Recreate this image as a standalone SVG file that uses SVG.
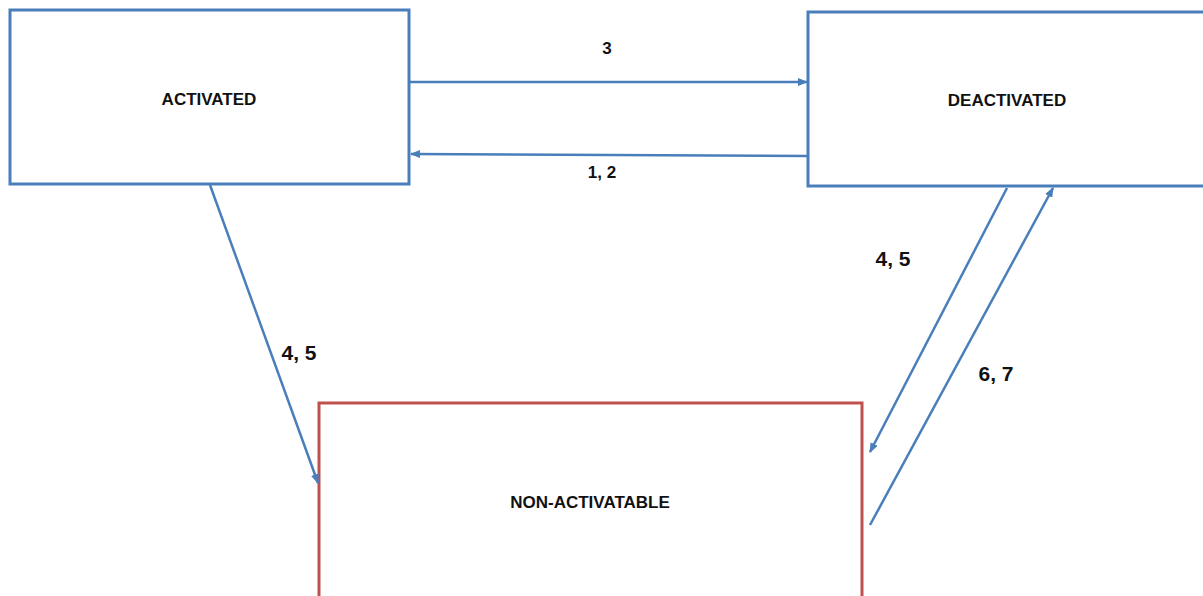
<svg xmlns="http://www.w3.org/2000/svg" width="1203" height="596" viewBox="0 0 1203 596">
<defs>
<marker id="ah" markerWidth="10" markerHeight="8" refX="9" refY="4" orient="auto" markerUnits="userSpaceOnUse">
<path d="M0,0 L10,4 L0,8 Z" fill="#4a7ebb"/>
</marker>
</defs>
<style>
.box{fill:#fff;stroke:#4a7ebb;stroke-width:3}
.red{fill:#fff;stroke:#c0504d;stroke-width:3}
.t{font-family:"Liberation Sans",Arial,sans-serif;font-weight:bold;font-size:17px;fill:#111;text-anchor:middle}
.lbl{font-family:"Liberation Sans",Arial,sans-serif;font-weight:bold;font-size:17px;fill:#111;text-anchor:middle}
.lbl2{font-family:"Liberation Sans",Arial,sans-serif;font-weight:bold;font-size:21px;fill:#111;text-anchor:middle}
.c{stroke:#4a7ebb;stroke-width:2.5;fill:none;marker-end:url(#ah)}
</style>
<rect width="1203" height="596" fill="#fff"/>
<g id="activated">
<rect class="box" x="10" y="10" width="399" height="174"/>
<text class="t" x="209" y="105">ACTIVATED</text>
</g>
<g id="deactivated">
<rect class="box" x="808" y="12" width="400" height="174"/>
<text class="t" x="1007" y="106">DEACTIVATED</text>
</g>
<g id="nonactivatable">
<rect class="red" x="319" y="403" width="543" height="210"/>
<text class="t" x="590" y="508">NON-ACTIVATABLE</text>
</g>
<g id="connectors">
<line class="c" x1="410" y1="82" x2="807" y2="82"/>
<line class="c" x1="808" y1="156" x2="411" y2="154"/>
<line class="c" x1="210" y1="185" x2="318" y2="483"/>
<line class="c" x1="1007" y1="188" x2="870" y2="452"/>
<line class="c" x1="870" y1="525" x2="1053" y2="188"/>
</g>
<g id="labels">
<text class="lbl" x="607" y="54">3</text>
<text class="lbl" x="602" y="178">1, 2</text>
<text class="lbl2" x="299" y="360">4, 5</text>
<text class="lbl2" x="893" y="266">4, 5</text>
<text class="lbl2" x="996" y="381">6, 7</text>
</g>
</svg>
